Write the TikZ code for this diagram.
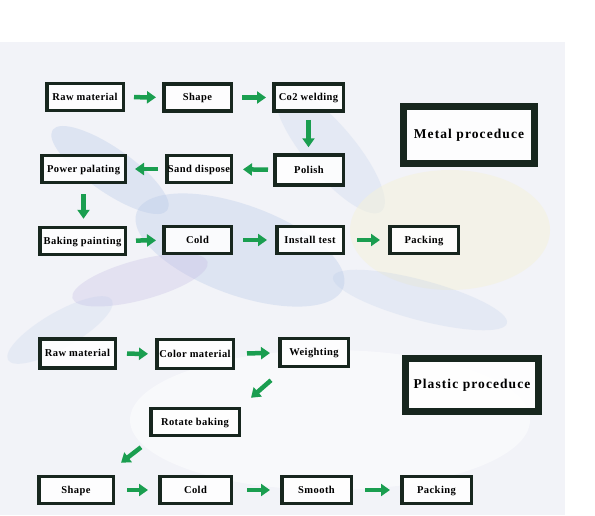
\documentclass[tikz,border=0pt]{standalone}
\usepackage{fontspec}
\setmainfont{Liberation Serif}
\newfontfamily\boxfont[LetterSpace=4]{Liberation Serif}
\newfontfamily\titlefont[LetterSpace=8]{Liberation Serif}
\usetikzlibrary{arrows.meta}
\definecolor{bordc}{HTML}{17261E}
\definecolor{arrg}{HTML}{1A9E50}
\definecolor{bgc}{HTML}{F2F3F8}
\definecolor{petalb}{HTML}{AFC3E6}
\definecolor{petalp}{HTML}{C3B8E2}
\definecolor{petaly}{HTML}{F4F2DA}
\tikzset{
  stepbox/.style={draw=bordc, line width=3.5pt, fill=white, fill opacity=0.88, text opacity=1,
    inner sep=1pt, minimum height=27pt, text height=8pt, text depth=2pt,
    font=\boxfont\bfseries\fontsize{10.5}{12}\selectfont},
  titlebox/.style={draw=bordc, line width=7pt, fill=white, fill opacity=0.9, text opacity=1,
    inner sep=2pt, font=\titlefont\bfseries\fontsize{13.5}{15}\selectfont},
  garrow/.style={draw=arrg, line width=4.5pt, -{Triangle[length=9pt,width=12pt]},
    shorten <=9pt, shorten >=6pt},
  petal/.style={fill=petalb, opacity=0.3}
}
\begin{document}
\begin{tikzpicture}[x=1pt,y=-1pt]
\useasboundingbox (0,0) rectangle (595,515);
\fill[white] (0,0) rectangle (595,515);
% faint watercolour background
\fill[bgc] (0,42) rectangle (565,515);
\fill[petal, rotate around={-35:(110,170)}] (110,170) ellipse (70 and 22);
\fill[petal, rotate around={-20:(240,250)}] (240,250) ellipse (110 and 45);
\fill[petalp, opacity=0.3, rotate around={15:(140,280)}] (140,280) ellipse (70 and 20);
\fill[petal, opacity=0.2, rotate around={-50:(330,150)}] (330,150) ellipse (80 and 25);
\fill[petaly, opacity=0.5] (450,230) ellipse (100 and 60);
\fill[petal, opacity=0.18, rotate around={30:(60,330)}] (60,330) ellipse (60 and 18);
\fill[petal, opacity=0.2, rotate around={-15:(420,300)}] (420,300) ellipse (90 and 20);
\fill[white, opacity=0.5] (330,420) ellipse (200 and 70);

% Metal proceduce
\node[stepbox, minimum width=76.5pt] (m1) at (85,97) {Raw material};
\node[stepbox, minimum width=67.5pt] (m2) at (197.5,97.5) {Shape};
\node[stepbox, minimum width=69.5pt] (m3) at (308.5,97.5) {Co2 welding};
\node[stepbox, minimum width=68.5pt, minimum height=30pt] (m4) at (309,170) {Polish};
\node[stepbox, minimum width=64.5pt] (m5) at (199,169) {Sand dispose};
\node[stepbox, minimum width=83.5pt] (m6) at (83.5,169) {Power palating};
\node[stepbox, minimum width=85.5pt] (m7) at (82.5,241) {Baking painting};
\node[stepbox, minimum width=67.5pt] (m8) at (197.5,240) {Cold};
\node[stepbox, minimum width=66.5pt] (m9) at (310,240) {Install test};
\node[stepbox, minimum width=68.5pt] (m10) at (424,240) {Packing};
\node[titlebox, minimum width=131pt, minimum height=57pt] (mt) at (469,135) {Metal proceduce};

\draw[garrow] (m1) -- (m2);
\draw[garrow] (m2) -- (m3);
\draw[garrow, shorten <=7pt, shorten >=6pt] (m3.south) -- (m3.south |- m4.north);
\draw[garrow, shorten <=5pt, shorten >=10pt] (m4) -- (m5);
\draw[garrow, shorten <=7pt, shorten >=8pt] (m5) -- (m6);
\draw[garrow, shorten <=10pt, shorten >=7pt] (m6.south) -- (m6.south |- m7.north);
\draw[garrow] (m7) -- (m8);
\draw[garrow, shorten <=10pt, shorten >=8pt] (m8) -- (m9);
\draw[garrow, shorten <=12pt, shorten >=8pt] (m9) -- (m10);

% Plastic proceduce
\node[stepbox, minimum width=75.5pt, minimum height=29pt] (p1) at (77.5,353.5) {Raw material};
\node[stepbox, minimum width=76.5pt, minimum height=29pt] (p2) at (195,354) {Color material};
\node[stepbox, minimum width=68.5pt, minimum height=28pt] (p3) at (314,352.5) {Weighting};
\node[stepbox, minimum width=88.5pt] (p4) at (195,422) {Rotate baking};
\node[stepbox, minimum width=74.5pt] (p5) at (76,490) {Shape};
\node[stepbox, minimum width=71.5pt] (p6) at (195.5,490) {Cold};
\node[stepbox, minimum width=69.5pt] (p7) at (316.5,490) {Smooth};
\node[stepbox, minimum width=69.5pt] (p8) at (436.5,490) {Packing};
\node[titlebox, minimum width=133pt, minimum height=53pt] (pt) at (472,385) {Plastic proceduce};

\draw[garrow, shorten <=10pt, shorten >=7pt] (p1) -- (p2);
\draw[garrow, shorten <=12pt, shorten >=8pt] (p2) -- (p3);
\draw[garrow, shorten <=0pt, shorten >=0pt] ([shift={(-7,12)}]p3.south west) -- ([shift={(10,-9)}]p4.north east);
\draw[garrow, shorten <=0pt, shorten >=0pt] ([shift={(-8,10)}]p4.south west) -- ([shift={(6,-12)}]p5.north east);
\draw[garrow, shorten <=12pt, shorten >=10pt] (p5) -- (p6);
\draw[garrow, shorten <=14pt, shorten >=10pt] (p6) -- (p7);
\draw[garrow, shorten <=12pt, shorten >=10pt] (p7) -- (p8);
\end{tikzpicture}
\end{document}
